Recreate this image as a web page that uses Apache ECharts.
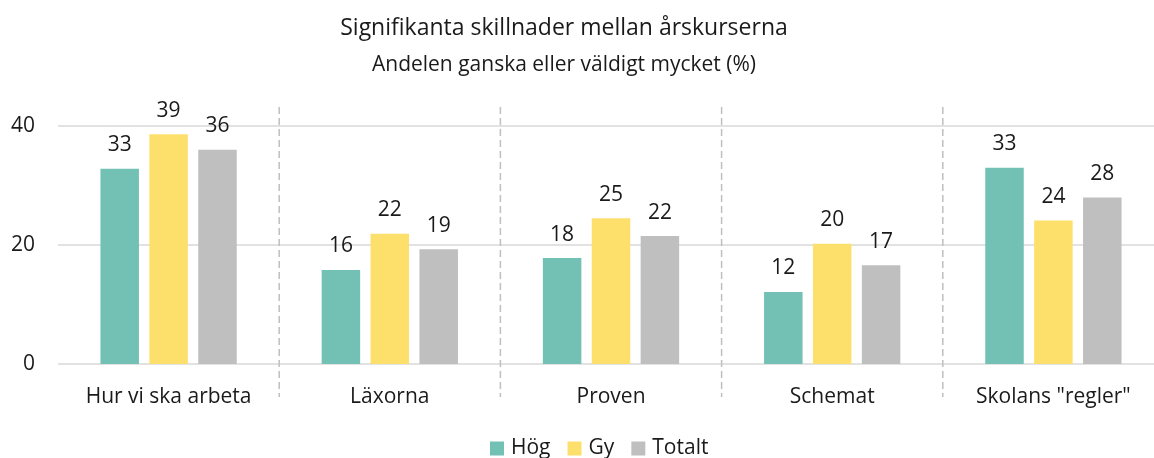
<!DOCTYPE html>
<html>
<head>
<meta charset="utf-8">
<title>Signifikanta skillnader mellan årskurserna</title>
<script src="https://cdn.jsdelivr.net/npm/echarts@6/dist/echarts.min.js"></script>
<style>
    html, body { margin: 0; padding: 0; background: #fff; }
    #chart { width: 1154px; height: 458px; }
</style>
</head>
<body>
<div id="chart"></div>
<script>
    var categories = ['Hur vi ska arbeta', 'Läxorna', 'Proven', 'Schemat', 'Skolans "regler"'];
    var hog    = [32.8, 15.8, 17.8, 12.1, 33.0];
    var gy     = [38.6, 21.9, 24.5, 20.2, 24.1];
    var totalt = [36.0, 19.3, 21.5, 16.6, 28.0];
    var yTicks = [0, 20, 40];

    var font = "'Open Sans', 'Noto Sans', sans-serif";

    // separators between the groups (index of the group they follow)
    var separators = [];
    for (var i = 0; i < categories.length - 1; i++) {
        separators.push([i]);
    }

    function barSeries(name, data, color) {
        return {
            name: name,
            type: 'bar',
            data: data,
            barWidth: 38.5,
            barGap: '27%',
            itemStyle: { color: color },
            label: {
                show: true,
                position: 'top',
                distance: 13,
                color: '#1a1a1a',
                fontFamily: font,
                fontSize: 21,
                formatter: function (p) { return Math.round(p.value); }
            }
        };
    }

    var chart = echarts.init(document.getElementById('chart'));
    var option = {
        animation: false,
        textStyle: { fontFamily: font },
        title: {
            text: 'Signifikanta skillnader mellan årskurserna',
            subtext: 'Andelen ganska eller väldigt mycket (%)',
            left: 559,
            textAlign: 'center',
            top: 12,
            itemGap: 15,
            textStyle: { fontFamily: font, fontSize: 23, fontWeight: 'normal', color: '#1a1a1a' },
            subtextStyle: { fontFamily: font, fontSize: 21, color: '#1a1a1a' }
        },
        legend: {
            data: ['Hög', 'Gy', 'Totalt'],
            left: 485,
            top: 433,
            icon: 'rect',
            itemWidth: 14,
            itemHeight: 14,
            itemGap: 17,
            textStyle: { fontFamily: font, fontSize: 21, color: '#1a1a1a', padding: [0, 0, 0, 2] }
        },
        grid: { left: 58, top: 126, bottom: 94, width: 1106, outerBoundsMode: 'none' },
        xAxis: {
            type: 'category',
            data: categories,
            axisLine: { show: false },
            axisTick: { show: false },
            axisLabel: { color: '#1a1a1a', fontFamily: font, fontSize: 21, margin: 23 }
        },
        yAxis: {
            type: 'value',
            min: yTicks[0],
            max: yTicks[yTicks.length - 1],
            interval: yTicks[1] - yTicks[0],
            axisLine: { show: false },
            axisTick: { show: false },
            axisLabel: { color: '#1a1a1a', fontFamily: font, fontSize: 21, margin: 23 },
            splitLine: { lineStyle: { color: '#d9d9d9', width: 1.5 } }
        },
        series: [
            barSeries('Hög', hog, '#73c1b4'),
            barSeries('Gy', gy, '#fddf6b'),
            barSeries('Totalt', totalt, '#bfbfbf'),
            {
                name: 'sep',
                type: 'custom',
                silent: true,
                z: 1,
                data: separators,
                encode: { x: 0 },
                renderItem: function (params, api) {
                    var idx = api.value(0);
                    var band = api.size([1, 0])[0];
                    var x = api.coord([idx, 0])[0] + band / 2;
                    var yTop = api.coord([idx, yTicks[yTicks.length - 1]])[1] - 19;
                    var yBottom = api.coord([idx, 0])[1] + 33;
                    return {
                        type: 'line',
                        shape: { x1: x, y1: yTop, x2: x, y2: yBottom },
                        style: { stroke: '#bfbfbf', lineWidth: 1.5, lineDash: [7, 4] }
                    };
                }
            }
        ]
    };
    chart.setOption(option);
</script>
</body>
</html>
